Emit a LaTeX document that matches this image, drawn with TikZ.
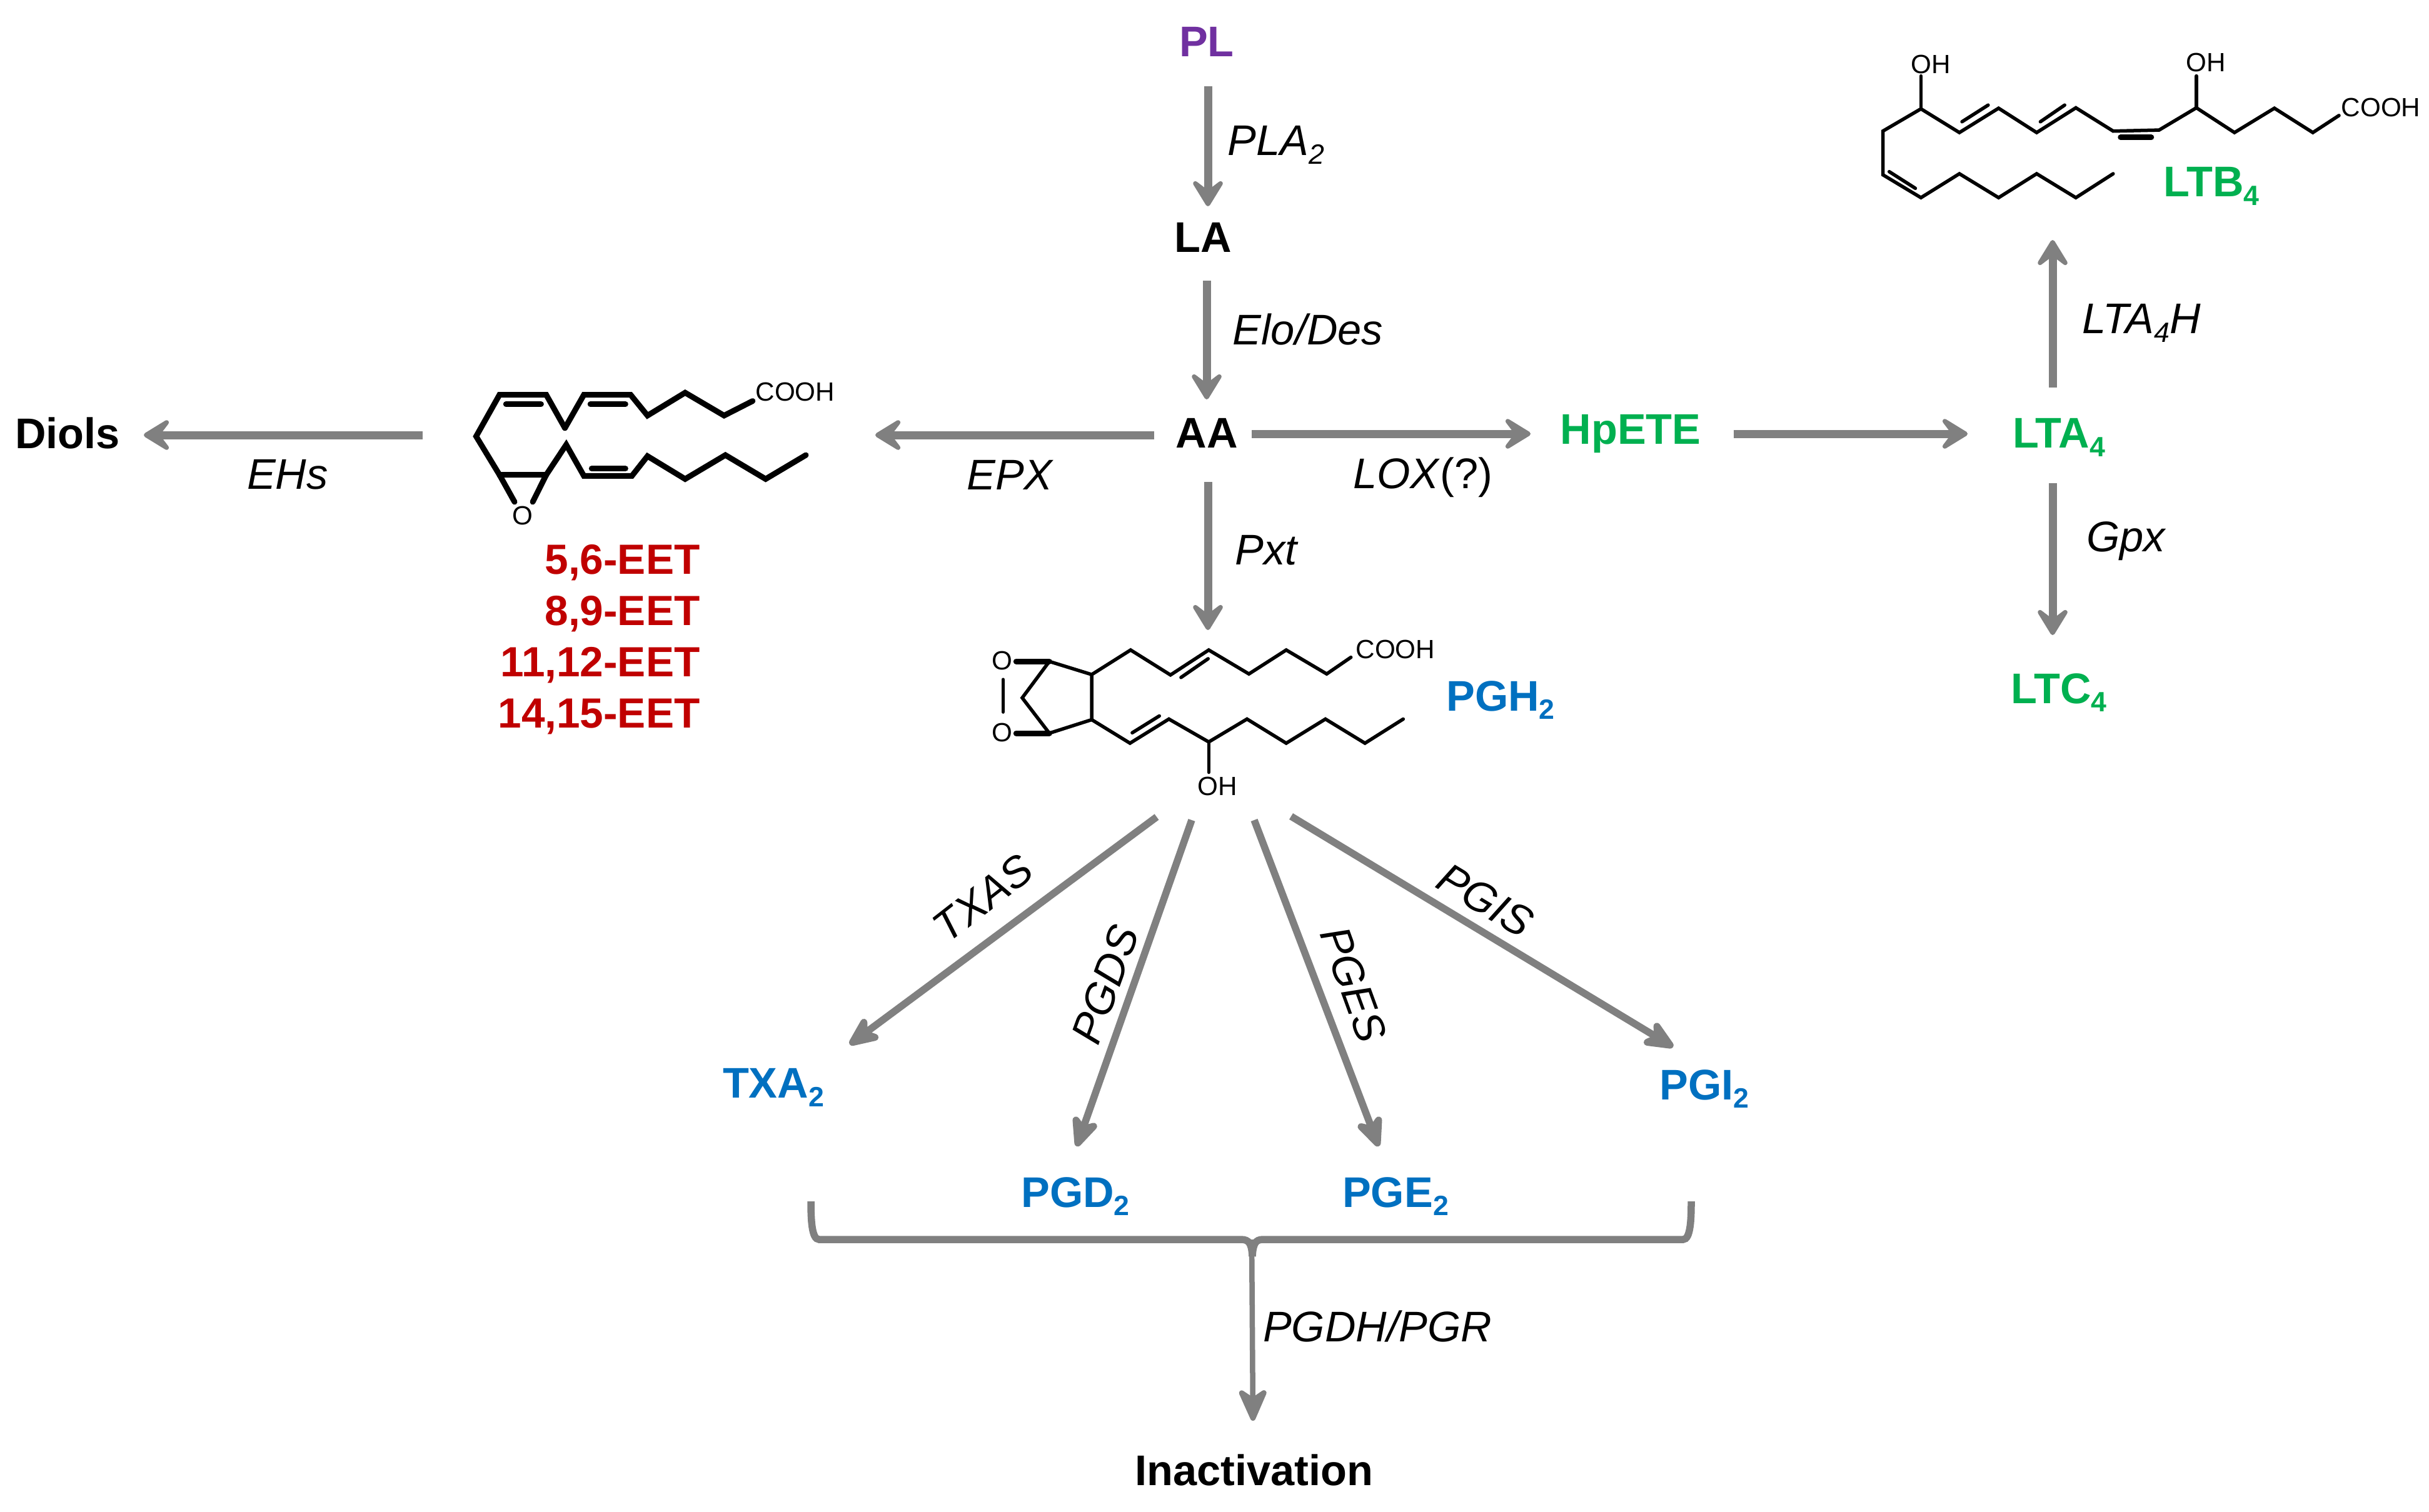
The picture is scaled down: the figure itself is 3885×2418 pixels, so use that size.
\documentclass[tikz,border=0pt]{standalone}
\usepackage{fontspec}
\setmainfont{Liberation Sans}
\usetikzlibrary{arrows.meta}
\definecolor{arrowgray}{RGB}{128,128,128}
\definecolor{plpurple}{RGB}{112,48,160}
\definecolor{eetred}{RGB}{192,0,0}
\definecolor{pgblue}{RGB}{0,112,192}
\definecolor{ltgreen}{RGB}{0,176,80}
\newcommand{\Lab}{\fontsize{19.5}{19.5}\selectfont\bfseries}
\newcommand{\Enz}{\fontsize{19.5}{19.5}\selectfont\itshape}
\newcommand{\Atom}{\fontsize{12}{12}\selectfont}
\newcommand{\Sb}[1]{\raisebox{-3.8pt}{\fontsize{12.7}{13}\selectfont #1}}
\tikzset{
  conn/.style={draw=arrowgray,line width=0.13cm,-{Stealth[length=0.54cm,width=0.66cm,inset=0.25cm,round]}},
  slim conn/.style={draw=arrowgray,line width=0.115cm,-{Stealth[length=0.62cm,width=0.54cm,inset=0.18cm,round]}},
  lab/.style={inner sep=0pt,font=\Lab},
  eet/.style={inner sep=0pt,font=\fontsize{19.2}{19.2}\selectfont\bfseries,text=eetred,anchor=east},
  enz/.style={inner sep=0pt,font=\Enz,text=black},
  atom/.style={inner sep=0pt,font=\Atom,text=black},
  bond/.style={draw=black,line width=0.055cm,line join=miter,line cap=round},
  heavy bond/.style={draw=black,line width=0.09cm,line join=miter,line cap=round}
}
\begin{document}
\begin{tikzpicture}[x=0.01cm,y=-0.01cm]
\useasboundingbox[fill=white] (0,0) rectangle (3885,2418);
% metabolite labels
\node[lab,text=plpurple] (PL) at (1930,67) {PL};
\node[lab,text=black] (LA) at (1924,380) {LA};
\node[lab,text=black] (AA) at (1930,693) {AA};
\node[lab,text=black] (Diols) at (108,693) {Diols};
\node[lab,text=ltgreen] (HpETE) at (2608,694) {HpETE};
\node[lab,text=ltgreen] (LTA) at (3293,700) {LTA\Sb{4}};
\node[lab,text=ltgreen] (LTC) at (3293,1108) {LTC\Sb{4}};
\node[lab,text=ltgreen] (LTB) at (3537,298) {LTB\Sb{4}};
\node[lab,text=pgblue] (PGH) at (2400,1120) {PGH\Sb{2}};
\node[lab,text=pgblue] (TXA) at (1237,1740) {TXA\Sb{2}};
\node[lab,text=pgblue] (PGD) at (1720,1914) {PGD\Sb{2}};
\node[lab,text=pgblue] (PGE) at (2232,1914) {PGE\Sb{2}};
\node[lab,text=pgblue] (PGI) at (2726,1742) {PGI\Sb{2}};
\node[lab,text=black] (Inact) at (2006,2352) {Inactivation};
\node[eet] (EETa) at (1120,900) {5,6-EET};
\node[eet] (EETb) at (1120,982) {8,9-EET};
\node[eet] (EETc) at (1120,1064) {11,12-EET};
\node[eet] (EETd) at (1120,1146) {14,15-EET};
% anchor points on the drawn structures
\coordinate (epoxR) at (1400,696);
\coordinate (epoxL) at (676,696);
\coordinate (pghT) at (1932,1008);
\coordinate (pghA) at (1850,1307);
\coordinate (pghB) at (1906,1312);
\coordinate (pghC) at (2006,1312);
\coordinate (pghD) at (2065,1306);
\coordinate (ltbB) at (3283,384);
\coordinate (brk) at (2002,1983);
% arrows
\draw[conn] ([shift={(2,71)}]PL.center) -- ([shift={(8,-50)}]LA.center);
\draw[conn] ([shift={(6,69)}]LA.center) -- ([shift={(0,-54)}]AA.center);
\draw[conn] ([shift={(-84,3)}]AA.center) -- (epoxR);
\draw[conn] (epoxL) -- ([shift={(122,3)}]Diols.center);
\draw[conn] ([shift={(72,1)}]AA.center) -- ([shift={(-160,0)}]HpETE.center);
\draw[conn] ([shift={(2,78)}]AA.center) -- (pghT);
\draw[conn] ([shift={(165,0)}]HpETE.center) -- ([shift={(-146,-6)}]LTA.center);
\draw[conn] ([shift={(-10,-80)}]LTA.center) -- (ltbB);
\draw[conn] ([shift={(-10,73)}]LTA.center) -- ([shift={(-10,-92)}]LTC.center);
\draw[slim conn] (pghA) -- ([shift={(122,-69)}]TXA.center);
\draw[slim conn] (pghB) -- ([shift={(2,-80)}]PGD.center);
\draw[slim conn] (pghC) -- ([shift={(-27,-80)}]PGE.center);
\draw[slim conn] (pghD) -- ([shift={(-50,-67)}]PGI.center);
% bracket
\draw[draw=arrowgray,line width=0.115cm] (1297,1922) .. controls (1297,1950) and (1298,1983) .. (1310,1983) -- (1985,1983) .. controls (1998,1983) and (2002,1990) .. (2003,2010);
\draw[draw=arrowgray,line width=0.115cm] (2705,1922) .. controls (2705,1950) and (2704,1983) .. (2692,1983) -- (2020,1983) .. controls (2008,1983) and (2004,1990) .. (2003,2010);
\draw[slim conn,line width=0.085cm] (brk) -- ([shift={(-2,-79)}]Inact.center);
% enzyme labels
\node[enz] (ePLA) at (2041,232) {PLA\Sb{2}};
\node[enz] (eElo) at (2092,527) {Elo/Des};
\node[enz] (eEHs) at (460,759) {EHs};
\node[enz] (eEPX) at (1615,760) {EPX};
\node[enz] (eLOX) at (2276,764) {LOX\textup{(?)}};
\node[enz] (ePxt) at (2025,880) {Pxt};
\node[enz] (eLTH) at (3425,517) {LTA\Sb{4}H};
\node[enz] (eGpx) at (3400,866) {Gpx};
\node[enz,rotate=38] (eTXAS) at (1572,1437) {TXAS};
\node[enz,rotate=70] (ePGDS) at (1768,1575) {PGDS};
\node[enz,rotate=-70] (ePGES) at (2165,1575) {PGES};
\node[enz,rotate=-31] (ePGIS) at (2376,1440) {PGIS};
\node[enz] (ePGDH) at (2203,2122) {PGDH/PGR};
% LTB4 structure
\begin{scope}[shift={(2950,50)},x=0.00596cm,y=-0.00333cm]
\draw[bond] (720,685)--(620,800)--(515,685)--(413,800)--(308,685)--(205,800)--(103,690)--(103,480)--(205,373)--(308,487)--(413,370)--(515,487)--(620,368)--(720,480)--(843,475)--(943,368)--(1045,487)--(1152,370)--(1255,487)--(1325,405);
\draw[bond] (205,373)--(205,215) (943,368)--(943,215);
\draw[bond] (120,675)--(190,755) (315,435)--(385,355) (525,435)--(590,355);
\draw[heavy bond] (740,510)--(822,510);
\node[atom] (ltbOHa) at (232,158) {OH};
\node[atom] (ltbOHb) at (968,150) {OH};
\node[atom,anchor=west] (ltbC) at (1330,368) {COOH};
\end{scope}
% epoxide structure
\begin{scope}[shift={(720,570)},x=0.00415cm,y=-0.00333cm]
\draw[heavy bond] (1165,215)--(1055,285)--(905,175)--(760,285)--(695,185)--(515,185)--(442,345);
\draw[heavy bond] (442,345)--(370,185)--(190,185)--(100,385)--(190,570)--(370,570)--(447,425)--(515,575)--(700,575)--(760,480)--(905,590)--(1060,475)--(1215,590)--(1370,475);
\draw[heavy bond] (215,230)--(350,230) (540,230)--(675,230) (545,540)--(675,540);
\draw[heavy bond] (190,570)--(248,700) (370,570)--(318,700);
\node[atom] (epoxO) at (280,765) {O};
\node[atom,anchor=west] (epoxC) at (1175,170) {COOH};
\end{scope}
% PGH2 structure
\begin{scope}[shift={(1560,980)},x=0.0051cm,y=-0.00333cm]
\draw[bond] (1178,215)--(1102,295)--(975,180)--(858,295)--(732,180)--(612,300)--(487,180)--(365,298)--(232,235)--(147,410)--(232,580)--(365,515)--(365,298);
\draw[bond] (365,515)--(485,628)--(607,512)--(732,622)--(852,512)--(975,628)--(1098,512)--(1222,628)--(1342,512);
\draw[bond] (732,622)--(732,768);
\draw[bond] (645,312)--(730,222) (492,578)--(577,497);
\draw[bond] (87,322)--(87,478);
\draw[heavy bond] (128,235)--(232,235) (128,580)--(232,580);
\node[atom] (pghOa) at (85,232) {O};
\node[atom] (pghOb) at (85,577) {O};
\node[atom] (pghOH) at (760,835) {OH};
\node[atom,anchor=west] (pghCOOH) at (1192,178) {COOH};
\end{scope}
\end{tikzpicture}
\end{document}
